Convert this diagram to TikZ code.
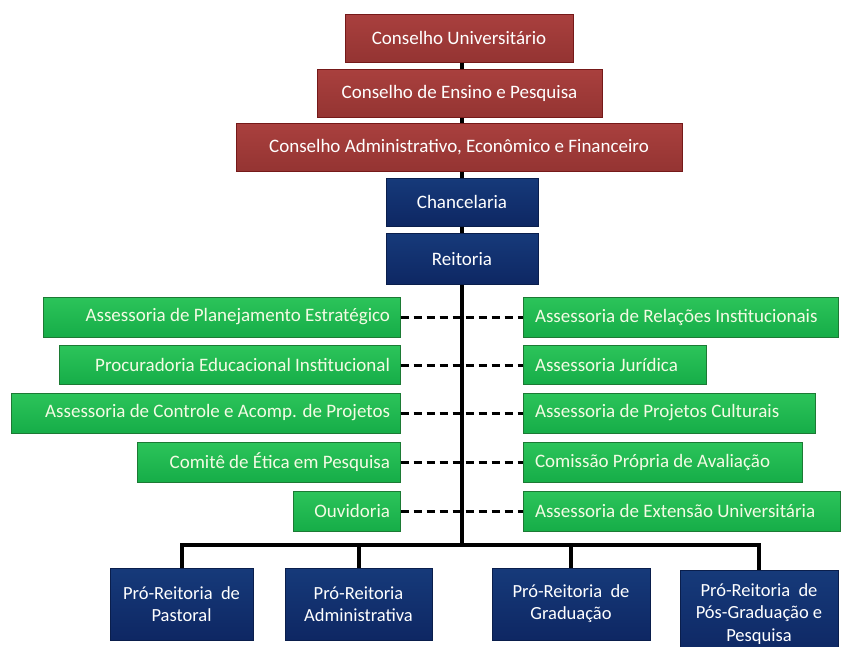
\documentclass[tikz,border=0pt]{standalone}
\usepackage{fontspec}
\setmainfont{Carlito}
\begin{document}
\begin{tikzpicture}[x=1pt,y=-1pt,
  base/.style={rectangle, inner sep=0pt, minimum height=48pt, text=white, font=\fontsize{19}{22}\selectfont, line width=1pt},
  redbox/.style={base, draw=red!40!black!90, top color=rdT, bottom color=rdB, minimum height=48pt},
  bluebox/.style={base, draw=bluD, top color=bluT, bottom color=bluB, minimum height=48pt},
  pbox/.style={bluebox, align=center, font=\fontsize{18.5}{22}\selectfont},
  greenbox/.style={base, draw=grnD, top color=grnT, bottom color=grnB, minimum height=40pt, text=grnTx},
  gL/.style={greenbox, align=flush right, inner xsep=10pt},
  gR/.style={greenbox, align=flush left, inner xsep=12pt},
  trunk/.style={line width=4pt, black},
  dsh/.style={line width=3pt, black, dash pattern=on 8pt off 5pt},
  link/.style={line width=4pt, black}
]
\definecolor{rdT}{HTML}{A9403E}
\definecolor{rdB}{HTML}{943432}
\definecolor{bluT}{HTML}{163A7A}
\definecolor{bluB}{HTML}{0E2763}
\definecolor{bluD}{HTML}{0A1E4C}
\definecolor{grnT}{HTML}{2CC45A}
\definecolor{grnB}{HTML}{16AD48}
\definecolor{grnD}{HTML}{1C7A34}
\definecolor{grnTx}{HTML}{F4FBE4}
\clip (0,0) rectangle (841,646);

% top council boxes
\node[redbox, minimum width=228pt] (cu) at (459,38) {Conselho Universitário};
\node[redbox, minimum width=285pt] (cep) at (459.5,93.5) {Conselho de Ensino e Pesquisa};
\node[redbox, minimum width=446pt] (caef) at (459,147.5) {Conselho Administrativo, Econômico e Financeiro};
\node[bluebox, minimum width=152pt] (chan) at (462,202) {Chancelaria};
\node[bluebox, minimum width=152pt, minimum height=51pt] (reit) at (462,259) {Reitoria};

% connectors between top boxes
\draw[link] (cu.south -| reit.north) -- (cep.north -| reit.north);
\draw[link] (cep.south -| reit.north) -- (caef.north -| reit.north);
\draw[link] (caef.south -| reit.north) -- (chan.north);
\draw[link] (chan.south) -- (reit.north);

% bottom boxes
\node[pbox, minimum width=143pt, minimum height=72pt] (p1) at (181.5,604) {Pró-Reitoria\ \ de\\Pastoral};
\node[pbox, minimum width=147pt, minimum height=72pt] (p2) at (358.5,604) {Pró-Reitoria\\Administrativa};
\node[pbox, minimum width=158pt, minimum height=72pt] (p3) at (571,604) {Pró-Reitoria\ \ de\\Graduação};
\node[pbox, minimum width=158pt, minimum height=88pt, font=\fontsize{18.5}{22.5}\selectfont] (p4) at (759,614) {Pró-Reitoria\ \ de\\Pós-Graduação e\\Pesquisa};

% trunk and bar
\coordinate (bar) at (462,545);
\draw[trunk] (reit.south) -- (bar);
\draw[trunk] (p1.north) -- (p1.north |- bar) -- (p4.north |- bar) -- (p4.north);
\draw[trunk] (p2.north) -- (p2.north |- bar);
\draw[trunk] (p3.north) -- (p3.north |- bar);

% left advisory boxes (right edge at 400)
\node[gL, text width=337pt] (l1) at (221.5,317) {Assessoria de Planejamento Estratégico};
\node[gL, text width=321pt, minimum height=39pt] (l2) at (229.5,365) {Procuradoria Educacional Institucional};
\node[gL, text width=369pt] (l3) at (205.5,413) {Assessoria de Controle e Acomp. de Projetos};
\node[gL, text width=243pt] (l4) at (268.5,462) {Comitê de Ética em Pesquisa};
\node[gL, text width=87pt] (l5) at (346.5,511) {Ouvidoria};

% right advisory boxes (left edge at 523)
\node[gR, text width=291pt] (r1) at (680.5,317) {Assessoria de Relações Institucionais};
\node[gR, text width=159pt, minimum height=39pt] (r2) at (614.5,365) {Assessoria Jurídica};
\node[gR, text width=268pt] (r3) at (669,413) {Assessoria de Projetos Culturais};
\node[gR, text width=255pt] (r4) at (662.5,462) {Comissão Própria de Avaliação};
\node[gR, text width=293pt] (r5) at (681.5,511) {Assessoria de Extensão Universitária};

% dashed staff links
\foreach \i in {1,...,5}{
  \draw[dsh] (l\i.east) -- (r\i.west);
}
\end{tikzpicture}
\end{document}
